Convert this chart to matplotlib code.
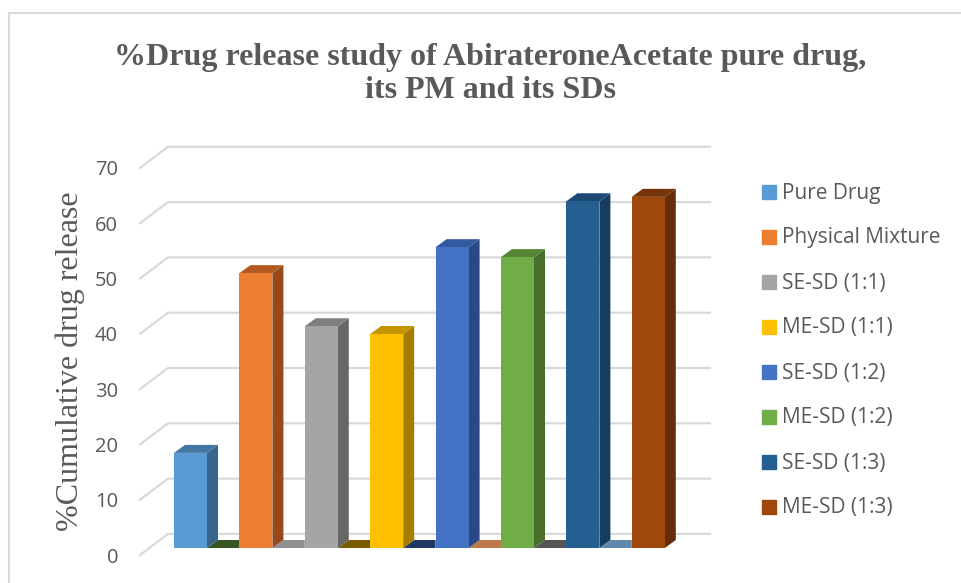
""" Recreates the %Drug release pseudo-3D bar chart with matplotlib """
from matplotlib import pyplot as plt
from matplotlib.patches import Polygon

labels = ['Pure Drug', 'Physical Mixture', 'SE-SD (1:1)', 'ME-SD (1:1)',
          'SE-SD (1:2)', 'ME-SD (1:2)', 'SE-SD (1:3)', 'ME-SD (1:3)']
release = [17.2, 49.7, 40.1, 38.7, 54.4, 52.6, 62.7, 63.5]
y_ticks = [0, 10, 20, 30, 40, 50, 60, 70]

front_colors = ['#5b9bd5', '#ed7d31', '#a5a5a5', '#ffc000', '#4472c4', '#70ad47', '#255e91', '#9e480e']
side_colors = ['#38658c', '#97491c', '#676767', '#a47c00', '#2a4a85', '#4a6f2c', '#163d5f', '#652d09']
top_colors = ['#4576a3', '#b35a22', '#7f7f7f', '#c49500', '#335aa1', '#578435', '#1c4a73', '#763509']
floor_colors = ['#375623', '#8f8f8f', '#7a5c00', '#1f3864', '#bc7a4a', '#555555', '#6088ae']

W, H = 961, 583
PX_X = 65.4     # pixels per category
PX_Y = 5.53     # pixels per value unit
BAR_W = 33 / PX_X
DX = 11 / PX_X  # depth offset of the 3D look
DY = 8 / PX_Y

fig = plt.figure(figsize=(W / 100, H / 100), dpi=100)
ax = fig.add_axes([0, 0, 1, 1])
# one data axes over the whole figure so the fake depth can live in data units
ax.set_xlim(-190.5 / PX_X, (W - 190.5) / PX_X)
ax.set_ylim(-(H - 548) / PX_Y, 548 / PX_Y)
ax.axis('off')

# outer chart border, only top and left are inside the crop
for xs, ys in [((9, 961), (13, 13)), ((9, 9), (13, 583))]:
    fig.add_artist(plt.Line2D([x / W for x in xs], [1 - y / H for y in ys], color='#d9d9d9', lw=1.5))

# gridlines bent along the side wall and the back wall
left_x = (140 - 190.5) / PX_X
wall_x = (168 - 190.5) / PX_X
right_x = (710 - 190.5) / PX_X
for v in y_ticks:
    ax.plot([left_x, wall_x, right_x], [v - 1.27, v + 2.55, v + 2.55], color='#d9d9d9', lw=1.6, zorder=1)
    ax.text((118 - 190.5) / PX_X, v - 1.27, str(v), ha='right', va='center_baseline', fontsize=14.5,
            color='#595959', family='Open Sans')

# floor pieces between the bars (zero height bars of the other series)
for i in range(len(release) - 1):
    r = i + BAR_W / 2
    n = i + 1 - BAR_W / 2
    ax.add_patch(Polygon([(r, 0), (r + DX, DY), (n, DY), (n, 0)], color=floor_colors[i], lw=0, zorder=2))

for i in range(len(release)):
    r = i + BAR_W / 2
    l = i - BAR_W / 2
    v = release[i]
    ax.bar(i, v, width=BAR_W, color=front_colors[i], zorder=4)
    ax.add_patch(Polygon([(r, 0), (r + DX, DY), (r + DX, v + DY), (r, v)], color=side_colors[i], lw=0, zorder=3))
    ax.add_patch(Polygon([(l, v), (l + DX, v + DY), (r + DX, v + DY), (r, v)], color=top_colors[i], lw=0, zorder=3))

fig.text(490 / W, 1 - 57 / H, '%Drug release study of AbirateroneAcetate pure drug,', ha='center', va='center',
         fontsize=23, fontweight='bold', color='#595959', family='Liberation Serif')
fig.text(490 / W, 1 - 90 / H, 'its PM and its SDs', ha='center', va='center',
         fontsize=23, fontweight='bold', color='#595959', family='Liberation Serif')
fig.text(70 / W, 1 - 361 / H, '%Cumulative drug release', rotation=90, ha='center', va='center',
         fontsize=23, color='#595959', family='Liberation Serif')

# hand made legend, the entries are spread wider than plt.legend would do
for i in range(len(labels)):
    y = 192 + 45 * i
    fig.patches.append(plt.Rectangle((762 / W, 1 - (y + 7) / H), 14 / W, 14 / H, transform=fig.transFigure,
                                     color=front_colors[i], figure=fig))
    fig.text(782 / W, 1 - (y + 1) / H, labels[i], ha='left', va='center', fontsize=15, color='#595959', family='Open Sans')

plt.savefig('out.png', dpi=100)
